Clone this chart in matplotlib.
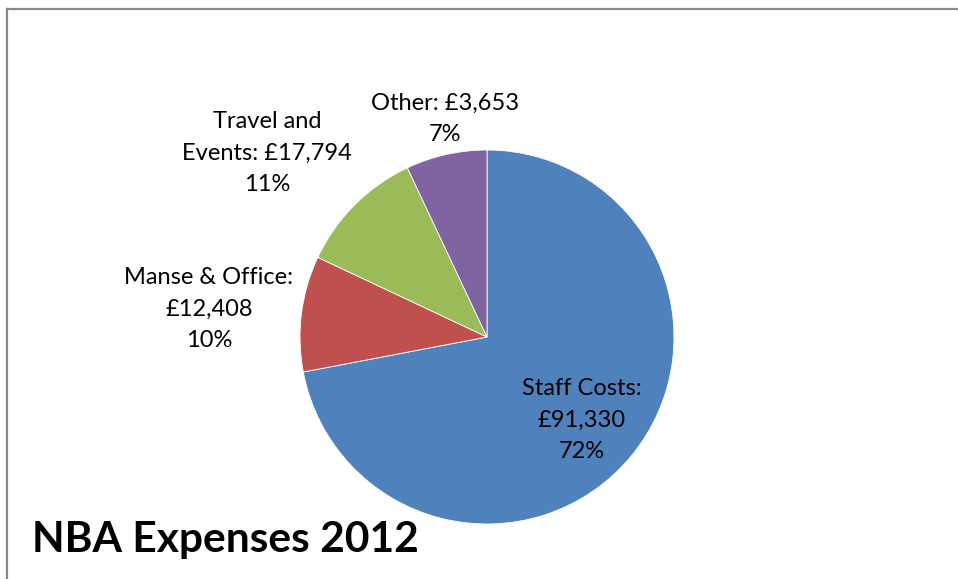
import matplotlib
matplotlib.use("Agg")
import matplotlib.pyplot as plt
from matplotlib.lines import Line2D

# slice shares as drawn (percent), clockwise from 12 o'clock
categories = ["Staff Costs", "Manse & Office", "Travel and Events", "Other"]
shares = [72, 10, 11, 7]
amounts = ["£91,330", "£12,408", "£17,794", "£3,653"]
colors = ["#4F81BD", "#C0504D", "#9BBB59", "#8064A2"]

plt.rcParams["font.family"] = ["Lato", "DejaVu Sans"]

W, H = 958, 579
fig = plt.figure(figsize=(W / 100, H / 100), dpi=100)

# pie centre (487, 337) px, radius 187 px
cx, cy, r = 487, 337, 187
ax = fig.add_axes([(cx - r) / W, (H - cy - r) / H, 2 * r / W, 2 * r / H])
ax.pie(shares, colors=colors, startangle=90, counterclock=False, radius=1,
       wedgeprops=dict(edgecolor="white", linewidth=0.6))
ax.set_xlim(-1, 1)
ax.set_ylim(-1, 1)
ax.set_aspect("equal")
ax.axis("off")

labels = [
    f"Staff Costs:\n{amounts[0]}\n{shares[0]}%",
    f"Manse & Office:\n{amounts[1]}\n{shares[1]}%",
    f"Travel and\nEvents: {amounts[2]}\n{shares[2]}%",
    f"Other: {amounts[3]}\n{shares[3]}%",
]
label_px = [(582, 420), (209, 309), (267, 153), (445, 119)]
for txt, (x, y) in zip(labels, label_px):
    fig.text(x / W, 1 - y / H, txt, ha="center", va="center", fontsize=17,
             linespacing=1.6, color="black")

fig.text(32 / W, 1 - 540 / H, "NBA Expenses 2012", ha="left", va="center",
         fontsize=30.6, fontweight="bold", color="black")

# frame: only top and left edges visible
fig.add_artist(Line2D([7 / W, 1], [1 - 8.5 / H, 1 - 8.5 / H], color="#888888", lw=1.6))
fig.add_artist(Line2D([7 / W, 7 / W], [0, 1 - 8.5 / H], color="#888888", lw=1.6))

fig.savefig("out.png", dpi=100, facecolor="white")
